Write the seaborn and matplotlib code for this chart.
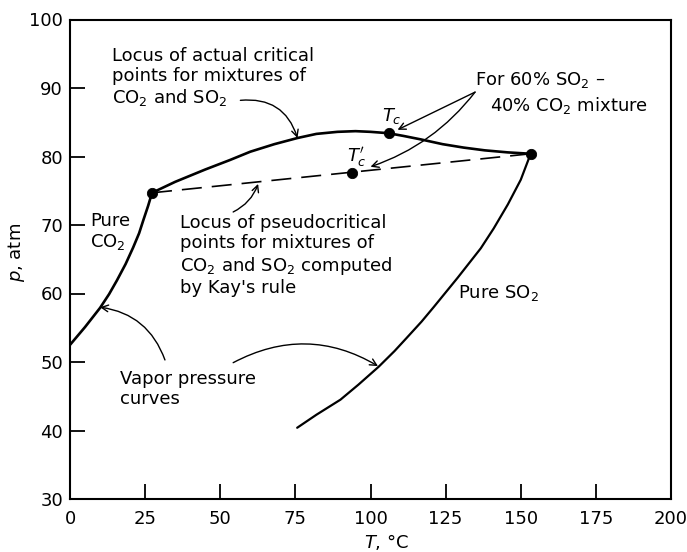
import matplotlib
matplotlib.use("Agg")
import matplotlib.pyplot as plt
import seaborn as sns
import pandas as pd

# ---- data ----
co2_T = [0, 5, 10, 13, 15.6, 18.5, 21, 23, 24.4, 26, 27.3]
co2_p = [52.5, 55.1, 57.9, 59.9, 61.9, 64.3, 66.7, 68.8, 70.7, 72.8, 74.7]

so2_T = [75.6, 82, 90, 96, 102.7, 108, 112, 117, 121, 129, 136.7, 141, 145.7, 150, 153.3]
so2_p = [40.4, 42.3, 44.5, 46.7, 49.3, 51.6, 53.5, 55.9, 58.0, 62.3, 66.6, 69.5, 73.0, 76.6, 80.4]

crit_T = [27.3, 35, 45, 53.3, 60, 68, 75.7, 82, 89, 95, 100, 106, 111, 116.7, 124, 131, 138, 145.7, 153.3]
crit_p = [74.7, 76.3, 78.1, 79.5, 80.7, 81.8, 82.7, 83.3, 83.6, 83.7, 83.6, 83.4, 83.0, 82.5, 81.8, 81.3, 80.9, 80.6, 80.4]

pseudo_T = [27.3, 153.3]
pseudo_p = [74.7, 80.4]

pts_T = [27.3, 106, 93.7, 153.3]
pts_p = [74.7, 83.4, 77.6, 80.4]

x_ticks = [0, 25, 50, 75, 100, 125, 150, 175, 200]
y_ticks = [30, 40, 50, 60, 70, 80, 90, 100]

sns.set_theme(style="white")
plt.rcParams["font.family"] = ["DejaVu Sans"]
plt.rcParams["mathtext.fontset"] = "dejavusans"
plt.rcParams["text.color"] = "black"
plt.rcParams["axes.labelcolor"] = "black"
plt.rcParams["xtick.color"] = "black"
plt.rcParams["ytick.color"] = "black"

fig = plt.figure(figsize=(6.87, 5.52), dpi=100)
ax = fig.add_axes([70 / 687, 53 / 552, 601 / 687, 479.5 / 552])

def line(T, p, **kw):
    sns.lineplot(data=pd.DataFrame({"T": T, "p": p}), x="T", y="p", sort=False,
                 estimator=None, ax=ax, color="black", **kw)

line(co2_T, co2_p, linewidth=1.9)
line(so2_T, so2_p, linewidth=1.6)
line(crit_T, crit_p, linewidth=1.9)
line(pseudo_T, pseudo_p, linewidth=1.2, dashes=(12, 6))
sns.scatterplot(x=pts_T, y=pts_p, ax=ax, color="black", s=55, edgecolor="black", zorder=5)

ax.set_xlim(0, 200)
ax.set_ylim(30, 100)
ax.set_xticks(x_ticks)
ax.set_yticks(y_ticks)
ax.tick_params(direction="in", length=11, width=1.3, labelsize=13, color="black",
               bottom=True, left=True, top=False, right=False)
ax.tick_params(axis="x", pad=8)
ax.tick_params(axis="y", pad=5)
for s in ax.spines.values():
    s.set_visible(True)
    s.set_color("black")
    s.set_linewidth(1.5)

ax.set_xlabel("$T$, °C", fontsize=13)
ax.set_ylabel("$p$, atm", fontsize=13)
ax.xaxis.set_label_coords(0.527, -0.068)
ax.yaxis.set_label_coords(-0.072, 0.515)

fs = 13
ls = 1.15
arr = dict(arrowstyle="->", color="black", lw=1.0, shrinkA=0, shrinkB=0)

ax.text(14, 96.0, "Locus of actual critical\npoints for mixtures of\nCO$_2$ and SO$_2$",
        fontsize=fs, va="top", ha="left", linespacing=ls)
ax.annotate("", xy=(75.7, 82.7), xytext=(56.7, 88.2),
            arrowprops=dict(connectionstyle="arc3,rad=-0.4", **arr))

ax.text(6.7, 71.9, "Pure\nCO$_2$", fontsize=fs, va="top", ha="left", linespacing=ls)

ax.text(36.6, 71.6, "Locus of pseudocritical\npoints for mixtures of\nCO$_2$ and SO$_2$ computed\nby Kay's rule",
        fontsize=fs, va="top", ha="left", linespacing=ls)
ax.annotate("", xy=(62.6, 76.0), xytext=(54.3, 71.9),
            arrowprops=dict(connectionstyle="arc3,rad=0.2", **arr))

ax.text(16.6, 48.8, "Vapor pressure\ncurves", fontsize=fs, va="top", ha="left", linespacing=ls)
ax.annotate("", xy=(10, 58.0), xytext=(31.6, 50.3),
            arrowprops=dict(connectionstyle="arc3,rad=0.3", **arr))
ax.annotate("", xy=(102.5, 49.4), xytext=(54.3, 49.9),
            arrowprops=dict(connectionstyle="arc3,rad=-0.28", **arr))

ax.text(129, 61.5, "Pure SO$_2$", fontsize=fs, va="top", ha="left")

ax.text(134.8, 92.6, "For 60% SO$_2$ –", fontsize=fs, va="top", ha="left")
ax.text(139.8, 89.0, "40% CO$_2$ mixture", fontsize=fs, va="top", ha="left")
ax.annotate("", xy=(109, 83.9), xytext=(134.8, 89.4),
            arrowprops=dict(connectionstyle="arc3,rad=0", **arr))
ax.annotate("", xy=(100, 78.5), xytext=(134.8, 89.4),
            arrowprops=dict(connectionstyle="arc3,rad=-0.15", **arr))

ax.text(107.2, 85.9, "$T_c$", fontsize=fs, va="center", ha="center")
ax.text(95.5, 79.9, "$T_c'$", fontsize=fs, va="center", ha="center")

fig.savefig("out.png", dpi=100, facecolor="white")
